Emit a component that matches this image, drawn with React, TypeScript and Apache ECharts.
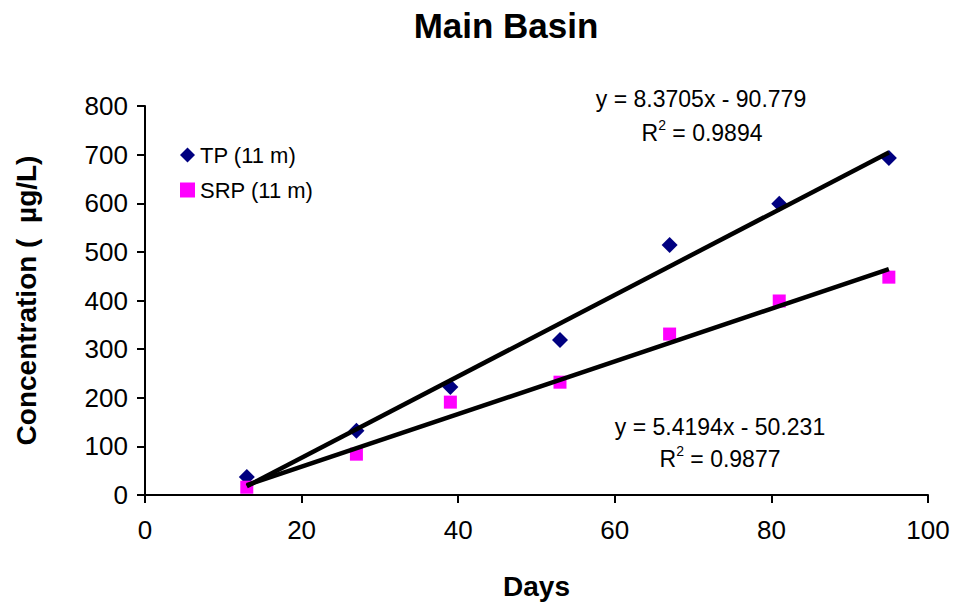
import React, { useEffect, useRef } from "react";
import * as echarts from "echarts";

const days = [13, 27, 39, 53, 67, 81, 95];
const tpValues = [37, 132, 222, 319, 514, 599, 693];
const srpValues = [16, 84, 191, 232, 331, 399, 448];
const tpFit = { slope: 8.3705, intercept: -90.779, r2: "0.9894" };
const srpFit = { slope: 5.4194, intercept: -50.231, r2: "0.9877" };

const FONT = "Liberation Sans, Arial, sans-serif";

function fitLine(fit: { slope: number; intercept: number }) {
  const x0 = days[0];
  const x1 = days[days.length - 1];
  return [
    [x0, fit.slope * x0 + fit.intercept],
    [x1, fit.slope * x1 + fit.intercept],
  ];
}

function fmtEq(fit: { slope: number; intercept: number }) {
  const sign = fit.intercept < 0 ? "-" : "+";
  return `y = ${fit.slope}x ${sign} ${Math.abs(fit.intercept)}`;
}

export default function App() {
  const ref = useRef<HTMLDivElement>(null);
  useEffect(() => {
    if (!ref.current) return;
    const chart = echarts.init(ref.current, null, { renderer: "svg" });
    const eqStyle = { fontSize: 23, fontFamily: FONT, fill: "#000", textAlign: "center" };
    const r2Rich = {
      n: { fontSize: 23, fontFamily: FONT, color: "#000", verticalAlign: "bottom", lineHeight: 26 },
      sup: { fontSize: 14, fontFamily: FONT, color: "#000", verticalAlign: "top", lineHeight: 26, padding: [0, 0, 10, 0] },
    };
    chart.setOption({
      animation: false,
      backgroundColor: "#fff",
      title: {
        text: "Main Basin",
        left: 501,
        textAlign: "center",
        top: 3,
        textStyle: { fontSize: 35, fontWeight: "bold", fontFamily: FONT, color: "#000" },
      },
      grid: { left: 145, right: 27, top: 106, bottom: 114, containLabel: false },
      legend: {
        orient: "vertical",
        left: 175,
        top: 139,
        itemGap: 13,
        itemWidth: 15,
        itemHeight: 15,
        textStyle: { fontSize: 22, fontFamily: FONT, color: "#000" },
        data: [
          { name: "TP (11 m)", icon: "diamond" },
          { name: "SRP (11 m)", icon: "rect" },
        ],
      },
      xAxis: {
        type: "value",
        min: 0,
        max: 100,
        interval: 20,
        name: "Days",
        nameLocation: "middle",
        nameGap: 77,
        nameTextStyle: { fontSize: 28, fontWeight: "bold", fontFamily: FONT, color: "#000" },
        axisLine: { show: true, lineStyle: { color: "#000", width: 2 } },
        axisTick: { show: true, length: 8, lineStyle: { color: "#000", width: 2 } },
        axisLabel: { fontSize: 26, fontFamily: FONT, color: "#000", margin: 22 },
        splitLine: { show: false },
      },
      yAxis: {
        type: "value",
        min: 0,
        max: 800,
        interval: 100,
        name: "Concentration (  µg/L)",
        nameLocation: "middle",
        nameGap: 105,
        nameTextStyle: { fontSize: 28, fontWeight: "bold", fontFamily: FONT, color: "#000" },
        axisLine: { show: true, lineStyle: { color: "#000", width: 2 } },
        axisTick: { show: true, length: 8, lineStyle: { color: "#000", width: 2 } },
        axisLabel: { fontSize: 26, fontFamily: FONT, color: "#000", margin: 17 },
        splitLine: { show: false },
      },
      series: [
        {
          name: "TP trend",
          type: "line",
          data: fitLine(tpFit),
          symbol: "none",
          lineStyle: { color: "#000", width: 4.5 },
          z: 3,
          silent: true,
        },
        {
          name: "SRP trend",
          type: "line",
          data: fitLine(srpFit),
          symbol: "none",
          lineStyle: { color: "#000", width: 4.5 },
          z: 3,
          silent: true,
        },
        {
          name: "TP (11 m)",
          type: "scatter",
          data: days.map((d, i) => [d, tpValues[i]]),
          symbol: "diamond",
          symbolSize: 16,
          itemStyle: { color: "#000080", opacity: 1 },
          z: 2,
        },
        {
          name: "SRP (11 m)",
          type: "scatter",
          data: days.map((d, i) => [d, srpValues[i]]),
          symbol: "rect",
          symbolSize: 13,
          itemStyle: { color: "#FF00FF", opacity: 1 },
          z: 2,
        },
      ],
      graphic: [
        { type: "text", x: 701, y: 87, style: { ...eqStyle, text: fmtEq(tpFit) } },
        {
          type: "text",
          x: 702,
          y: 118,
          style: { textAlign: "center", text: `{n|R}{sup|2}{n| = ${tpFit.r2}}`, rich: r2Rich },
        },
        { type: "text", x: 720, y: 415, style: { ...eqStyle, text: fmtEq(srpFit) } },
        {
          type: "text",
          x: 720,
          y: 444,
          style: { textAlign: "center", text: `{n|R}{sup|2}{n| = ${srpFit.r2}}`, rich: r2Rich },
        },
      ],
    });
    return () => chart.dispose();
  }, []);
  return <div ref={ref} style={{ width: 955, height: 609, position: "absolute", left: 0, top: 0 }} />;
}
